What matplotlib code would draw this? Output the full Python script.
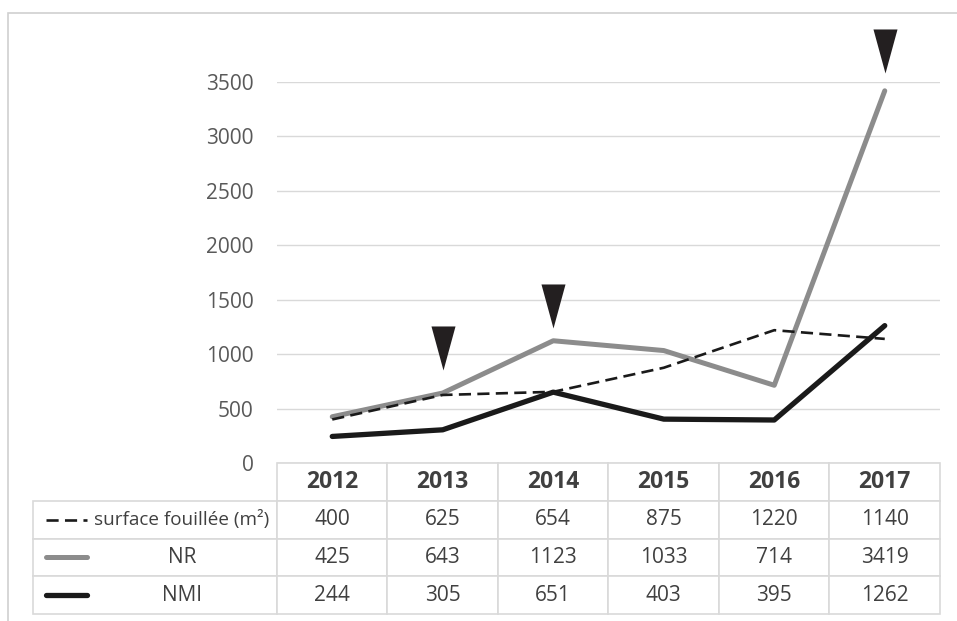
import matplotlib.pyplot as plt
from matplotlib.patches import Rectangle
from matplotlib.lines import Line2D
from matplotlib.path import Path

plt.rcParams['font.family'] = ['Open Sans', 'DejaVu Sans']

# Données
annees = [2012, 2013, 2014, 2015, 2016, 2017]
surface = [400, 625, 654, 875, 1220, 1140]
nr = [425, 643, 1123, 1033, 714, 3419]
nmi = [244, 305, 651, 403, 395, 1262]
noms_series = ["surface fouillée (m²)", "NR", "NMI"]
y_ticks = [0, 500, 1000, 1500, 2000, 2500, 3000, 3500]

# flèches (triangles) au-dessus de la courbe NR : année + position de la pointe
fleches_annees = [2013, 2014, 2017]
fleches_pointe = [855, 1240, 3580]

GRIS_TXT = "#595959"
GRIS_GRILLE = "#d9d9d9"
TIRETS = (0, (4.6, 2.4))

W, H = 957, 621
fig = plt.figure(figsize=(W / 100, H / 100), dpi=100)

# cadre extérieur
fig.patches.append(Rectangle((8 / W, -0.1), 1.0, 1 - 13 / H + 0.1,
                             transform=fig.transFigure, fill=False,
                             ec="#d0d0d0", lw=1.2))

# zone de tracé (en pixels -> fraction de figure)
ax_l, ax_r, ax_t, ax_b = 277, 940, 82, 463
ax = fig.add_axes([ax_l / W, 1 - ax_b / H, (ax_r - ax_l) / W, (ax_b - ax_t) / H])
px_w, px_h = ax_r - ax_l, ax_b - ax_t

x = list(range(len(annees)))
ax.plot(x, nr, color="#8c8c8c", lw=3.6, solid_joinstyle="round",
        solid_capstyle="round", zorder=3)
ax.plot(x, nmi, color="#1a1a1a", lw=3.8, solid_joinstyle="round",
        solid_capstyle="round", zorder=3)
ax.plot(x, surface, color="#1a1a1a", lw=1.9, ls=TIRETS, zorder=3.5)

# triangle pointe en bas, pointe à l'origine du marqueur
tri = Path([(-0.273, 1.0), (0.273, 1.0), (0.0, 0.0), (-0.273, 1.0)],
           [Path.MOVETO, Path.LINETO, Path.LINETO, Path.CLOSEPOLY])
ax.plot([annees.index(a) for a in fleches_annees], fleches_pointe, ls="none",
        marker=tri, ms=63.4, color="#231f20", mec="none", clip_on=False, zorder=4)

ax.set_xlim(-0.5, len(annees) - 0.5)
ax.set_ylim(0, 3500)
ax.set_yticks(y_ticks)
ax.set_xticks([])
ax.yaxis.grid(True, color=GRIS_GRILLE, lw=1)
ax.set_axisbelow(True)
for s in ax.spines.values():
    s.set_visible(False)
ax.tick_params(axis="y", length=0, pad=17, labelsize=15, labelcolor=GRIS_TXT)

# tableau de données sous le graphique (la grille des valeurs occupe la
# largeur des axes, la colonne des libellés déborde à gauche)
tab_l, tab_b = 33, 614
row_h = (tab_b - ax_b) / 4
cell_text = [[str(v) for v in serie] for serie in (surface, nr, nmi)]
tab = ax.table(cellText=cell_text,
               colLabels=[str(a) for a in annees],
               colWidths=[1 / len(annees)] * len(annees),
               cellLoc="center",
               bbox=[0, -(tab_b - ax_b) / px_h, 1, (tab_b - ax_b) / px_h])
for r in range(1, len(noms_series) + 1):
    tab.add_cell(r, -1, width=(ax_l - tab_l) / px_w,
                 height=tab[r, 0].get_height(), text="")
tab.auto_set_font_size(False)
for (r, c), cell in tab.get_celld().items():
    cell.set_edgecolor(GRIS_GRILLE)
    cell.set_linewidth(1.2)
    if r == 0:
        cell.get_text().set_fontsize(16.5)
        cell.get_text().set_fontweight("bold")
        cell.get_text().set_color("#404040")
    else:
        cell.get_text().set_fontsize(15)
        cell.get_text().set_color("#404040")

# légende dans la première colonne du tableau
styles = [dict(color="#1a1a1a", lw=1.9, ls=TIRETS),
          dict(color="#8c8c8c", lw=3.6, solid_capstyle="round"),
          dict(color="#1a1a1a", lw=3.8, solid_capstyle="round")]
tailles = [13.6, 15, 15]
for i, (nom, st, fs) in enumerate(zip(noms_series, styles, tailles)):
    yc = -((1.5 + i) * row_h) / px_h
    ax.add_line(Line2D([(46 - ax_l) / px_w, (87 - ax_l) / px_w], [yc, yc],
                       transform=ax.transAxes, clip_on=False, zorder=5, **st))
    ax.text((182 - ax_l) / px_w, yc, nom, transform=ax.transAxes,
            ha="center", va="center", fontsize=fs, color="#404040", zorder=5)

fig.savefig("out.png", dpi=100)
